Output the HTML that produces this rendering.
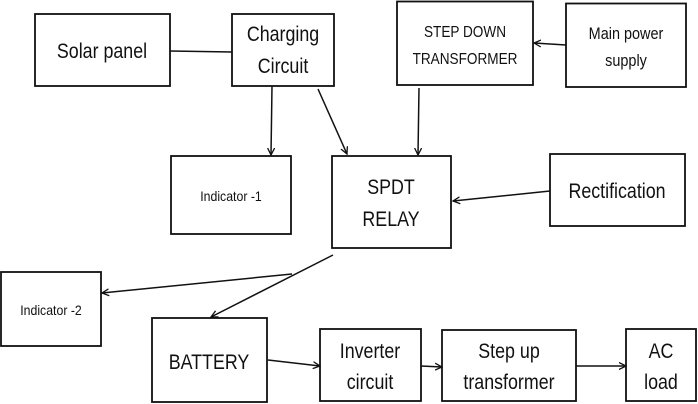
<!DOCTYPE html>
<html><head><meta charset="utf-8"><style>
html,body{margin:0;padding:0;background:#fff;}
svg{display:block;}
text{font-family:"Liberation Sans",sans-serif;fill:#111;}
</style></head><body>
<svg width="698" height="404" viewBox="0 0 698 404" xmlns="http://www.w3.org/2000/svg">
<defs><marker id="a" markerWidth="8" markerHeight="8" refX="7" refY="4" orient="auto" markerUnits="userSpaceOnUse"><path d="M0,0.5 L7,4 L0,7.5" fill="none" stroke="#111" stroke-width="1.3"/></marker></defs>
<g fill="none" stroke="#111" stroke-width="1.8">
<rect x="35" y="14" width="135" height="72"/>
<rect x="232" y="14" width="102" height="72"/>
<rect x="397" y="1.5" width="136" height="83.5"/>
<rect x="566" y="3.5" width="120" height="83.5"/>
<rect x="171" y="156" width="120" height="78"/>
<rect x="332" y="156" width="119" height="92"/>
<rect x="550" y="154" width="135" height="72"/>
<rect x="1" y="272" width="100" height="74"/>
<rect x="152" y="318" width="115" height="84"/>
<rect x="320" y="329" width="101" height="72"/>
<rect x="442" y="330" width="134" height="71"/>
<rect x="626" y="329" width="70" height="72"/>
</g>
<g stroke="#111" stroke-width="1.5" fill="none">
<line x1="170" y1="51" x2="232" y2="52"/>
<line x1="272" y1="86" x2="271" y2="155" marker-end="url(#a)"/>
<line x1="318" y1="89" x2="347" y2="154" marker-end="url(#a)"/>
<line x1="419" y1="88" x2="418" y2="155" marker-end="url(#a)"/>
<line x1="566" y1="45" x2="534" y2="43" marker-end="url(#a)"/>
<line x1="550" y1="191" x2="453" y2="201" marker-end="url(#a)"/>
<line x1="333" y1="255" x2="211" y2="317" marker-end="url(#a)"/>
<line x1="292" y1="274" x2="102" y2="293" marker-end="url(#a)"/>
<line x1="268" y1="360" x2="320" y2="366" marker-end="url(#a)"/>
<line x1="421" y1="366" x2="442" y2="367" marker-end="url(#a)"/>
<line x1="576" y1="366" x2="626" y2="366" marker-end="url(#a)"/>
</g>
<g text-anchor="middle">
<text transform="translate(102,58) scale(0.85,1)" font-size="21">Solar panel</text>
<text transform="translate(283,41) scale(0.85,1)" font-size="21">Charging</text>
<text transform="translate(283,73) scale(0.85,1)" font-size="21">Circuit</text>
<text transform="translate(465,37) scale(0.85,1)" font-size="16">STEP DOWN</text>
<text transform="translate(465,64) scale(0.85,1)" font-size="16">TRANSFORMER</text>
<text transform="translate(626,39) scale(0.85,1)" font-size="17">Main power</text>
<text transform="translate(626,66) scale(0.85,1)" font-size="17">supply</text>
<text transform="translate(231,201) scale(0.88,1)" font-size="14">Indicator -1</text>
<text transform="translate(391,194) scale(0.85,1)" font-size="21">SPDT</text>
<text transform="translate(391,226) scale(0.85,1)" font-size="21">RELAY</text>
<text transform="translate(617,198) scale(0.85,1)" font-size="21">Rectification</text>
<text transform="translate(51,315) scale(0.88,1)" font-size="14">Indicator -2</text>
<text transform="translate(209,369) scale(0.85,1)" font-size="21">BATTERY</text>
<text transform="translate(370,358) scale(0.85,1)" font-size="21">Inverter</text>
<text transform="translate(370,389) scale(0.85,1)" font-size="21">circuit</text>
<text transform="translate(509,358) scale(0.85,1)" font-size="21">Step up</text>
<text transform="translate(509,389) scale(0.85,1)" font-size="21">transformer</text>
<text transform="translate(661,358) scale(0.85,1)" font-size="21">AC</text>
<text transform="translate(661,389) scale(0.85,1)" font-size="21">load</text>
</g>
</svg>
</body></html>
